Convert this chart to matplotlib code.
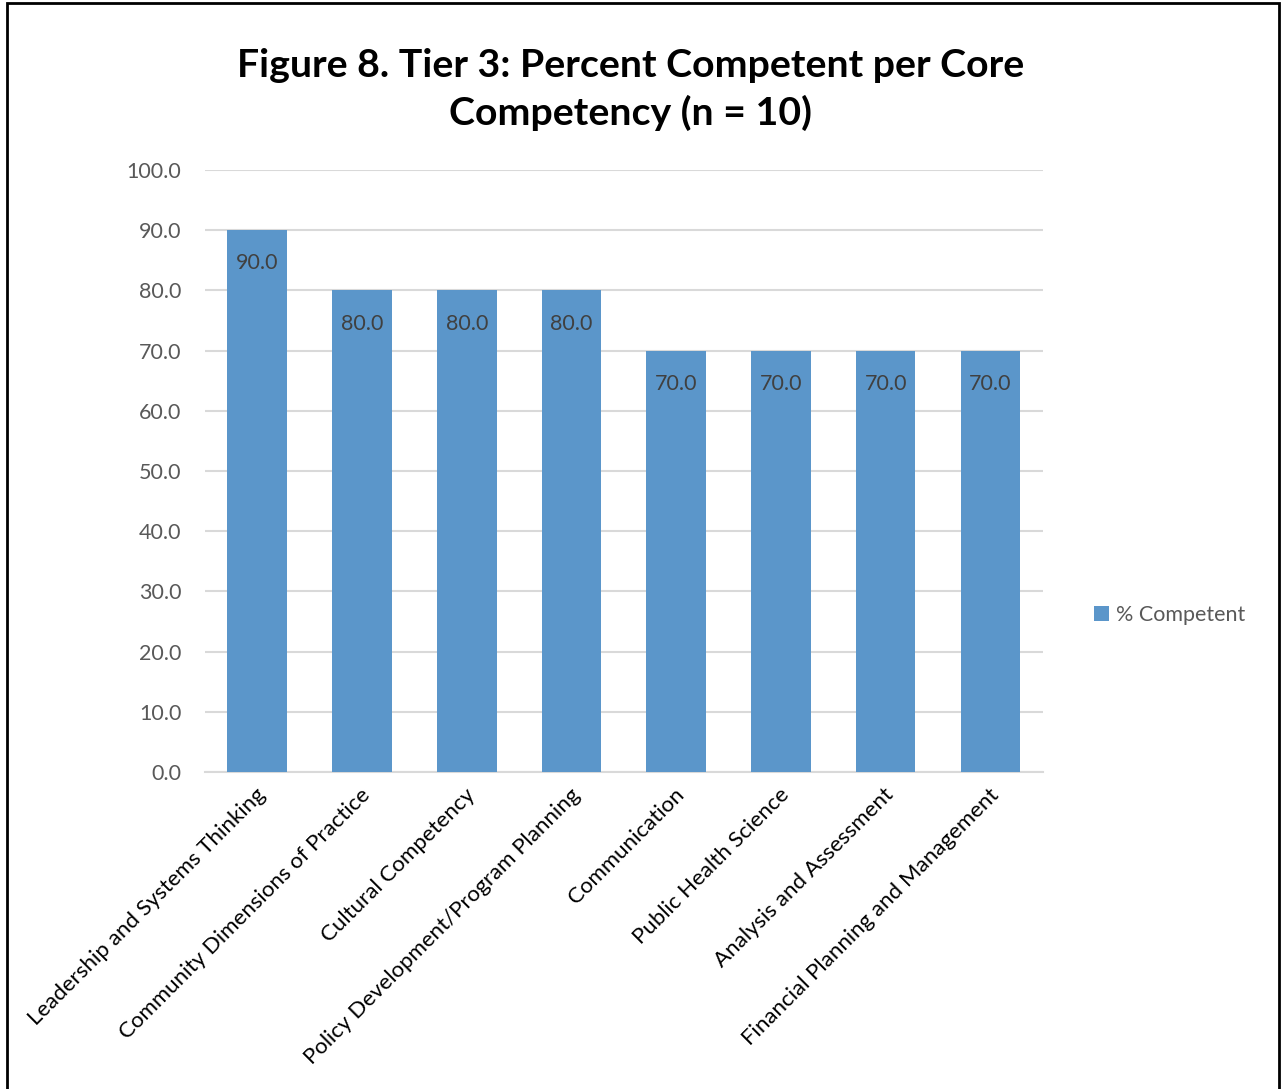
import matplotlib
matplotlib.use('Agg')
import matplotlib.pyplot as plt
import numpy as np

# chart data
competencies = [
    'Leadership and Systems Thinking',
    'Community Dimensions of Practice',
    'Cultural Competency',
    'Policy Development/Program Planning',
    'Communication',
    'Public Health Science',
    'Analysis and Assessment',
    'Financial Planning and Management',
]
pct_competent = [90.0, 80.0, 80.0, 80.0, 70.0, 70.0, 70.0, 70.0]
y_ticks = [0, 10, 20, 30, 40, 50, 60, 70, 80, 90, 100]
series_name = '% Competent'
title = 'Figure 8. Tier 3: Percent Competent per Core\nCompetency (n = 10)'

plt.rcParams['font.family'] = ['Lato', 'DejaVu Sans']

fig = plt.figure(figsize=(12.81, 10.89), dpi=100)
ax = fig.add_axes([0.160, 0.291, 0.654, 0.553])

bar_color = '#5B96CA'
x = np.arange(len(competencies))
bars = ax.bar(x, pct_competent, width=0.57, color=bar_color, zorder=3,
              label=series_name)

# value labels inside top of bars
for xi, v in zip(x, pct_competent):
    ax.annotate(f'{v:.1f}', xy=(xi, v), xytext=(0, -24),
                textcoords='offset points', ha='center', va='center',
                fontsize=15.5, color='#404040', zorder=4)

ax.set_xlim(-0.5, len(competencies) - 0.5)
ax.set_ylim(0, 100)
ax.set_yticks(y_ticks)
ax.set_yticklabels([f'{t:.1f}' for t in y_ticks], fontsize=15.5, color='#595959')
ax.yaxis.grid(True, color='#D9D9D9', linewidth=1.5, zorder=0)
ax.tick_params(axis='y', length=0, pad=17)
ax.tick_params(axis='x', length=0, pad=9)

ax.set_xticks(x)
ax.set_xticklabels(competencies, rotation=45, ha='right', va='top',
                   rotation_mode='anchor', fontsize=16, color='black')
for lbl in ax.get_xticklabels():
    lbl.set_transform(lbl.get_transform() +
                      matplotlib.transforms.ScaledTranslation(-2/100, 0, fig.dpi_scale_trans))

for side in ['top', 'right', 'left']:
    ax.spines[side].set_visible(False)
ax.spines['bottom'].set_color('#D9D9D9')
ax.spines['bottom'].set_linewidth(1.5)

fig.text(0.492, 0.918, title, ha='center', va='center', fontsize=28.3,
         fontweight='bold', color='black', linespacing=1.38)

leg = fig.legend(handles=[bars], labels=[series_name], loc='center left',
                 bbox_to_anchor=(0.839, 0.435), frameon=False, fontsize=15.5,
                 handlelength=0.7, handleheight=0.7, handletextpad=0.3)
for t in leg.get_texts():
    t.set_color('#595959')

# outer border
fig.patches.append(plt.Rectangle((0.0055, -0.01), 0.993, 1.007,
                                 transform=fig.transFigure, fill=False,
                                 edgecolor='black', linewidth=2))

fig.savefig('out.png', dpi=100)
